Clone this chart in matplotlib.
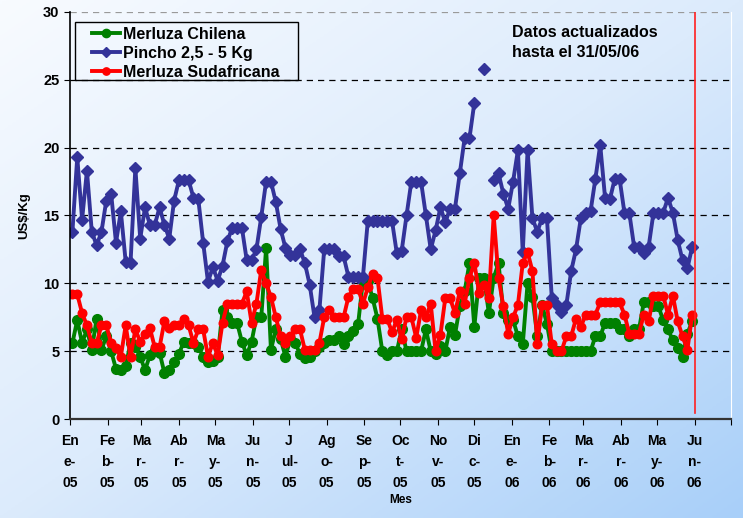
import numpy as np
import pandas as pd
import matplotlib
matplotlib.use('Agg')
import matplotlib.pyplot as plt
from matplotlib.colors import LinearSegmentedColormap
from matplotlib.patches import Rectangle

plt.rcParams['font.family'] = ['Liberation Sans', 'DejaVu Sans']
plt.rcParams['font.weight'] = 'bold'

nan = np.nan
# fechas de muestreo (cada 4 dias)
fechas = pd.date_range('2005-01-03', periods=129, freq='4D')

pincho = [13.8, 19.3, 14.7, 18.3, 13.8, 12.8, 13.8, 16.1, 16.6, 13.0,
          15.3, 11.6, 11.5, 18.5, 13.3, 15.6, 14.3, 14.3, 15.6, 14.3,
          13.3, 16.1, 17.6, 17.6, 17.6, 16.3, 16.2, 13.0, 10.1, 11.2,
          10.2, 11.3, 13.1, 14.1, 14.1, 14.1, 11.7, 11.7, 12.5, 14.9,
          17.5, 17.5, 16.0, 14.0, 12.6, 12.1, 12.1, 12.5, 11.5, 9.9,
          7.5, 8.0, 12.5, 12.5, 12.5, 12.0, 12.0, 10.5, 10.5, 10.5,
          10.5, 14.6, 14.6, 14.6, 14.6, 14.6, 14.6, 12.2, 12.4, 15.0,
          17.5, 17.5, 17.5, 15.0, 12.5, 13.9, 15.6, 14.5, 15.5, 15.5,
          18.1, 20.7, 20.7, 23.3, nan, 25.8, nan, 17.6, 18.1, 16.6,
          15.5, 17.5, 19.8, 12.3, 19.8, 14.8, 13.8, 14.8, 14.8, 8.9,
          8.4, 7.9, 8.4, 10.9, 12.5, 14.8, 15.2, 15.3, 17.7, 20.2,
          16.3, 16.2, 17.7, 17.7, 15.2, 15.2, 12.7, 12.7, 12.2, 12.7,
          15.2, 15.2, 15.2, 16.3, 15.2, 13.2, 11.7, 11.1, 12.7]

chilena = [5.6, 7.3, 5.6, 6.6, 5.1, 7.4, 5.1, 6.1, 5.0, 3.7,
           3.6, 3.9, 5.6, 5.3, 4.6, 3.6, 4.7, 5.1, 4.9, 3.4,
           3.6, 4.2, 4.8, 5.7, 5.6, 5.6, 5.3, 4.6, 4.2, 4.3,
           4.6, 8.0, 7.5, 7.1, 7.1, 5.7, 4.7, 5.7, 7.5, 7.5,
           12.6, 5.1, 6.6, 5.9, 4.6, 5.9, 5.6, 4.8, 4.5, 4.6,
           5.0, 5.3, 5.6, 5.8, 5.8, 6.1, 5.5, 6.1, 6.5, 7.0,
           10.2, 10.2, 8.9, 7.4, 5.0, 4.7, 5.0, 5.0, 6.6, 5.0,
           5.0, 5.0, 5.0, 6.6, 5.0, 4.8, 5.4, 5.0, 6.8, 6.2,
           8.3, 9.4, 11.5, 6.8, 10.4, 10.4, 7.8, 10.4, 11.5, 7.8,
           7.3, 7.3, 6.1, 5.5, 10.0, 9.0, 6.1, 8.4, 7.0, 5.0,
           5.0, 5.0, 5.0, 5.0, 5.0, 5.0, 5.0, 5.0, 6.1, 6.1,
           7.1, 7.1, 7.1, 6.6, 6.6, 6.1, 6.6, 6.6, 8.6, 8.6,
           8.3, 8.3, 7.3, 6.6, 5.8, 5.2, 4.6, 6.3, 7.2]

sudafricana = [9.2, 9.2, 7.8, 6.9, 5.6, 5.6, 6.9, 6.9, 5.6, 5.2,
               4.6, 6.9, 4.6, 6.6, 5.7, 6.3, 6.7, 5.3, 5.3, 7.2,
               6.7, 6.9, 6.9, 7.4, 6.9, 5.6, 6.6, 6.6, 4.6, 5.6,
               4.7, 7.1, 8.5, 8.5, 8.5, 8.5, 9.4, 7.1, 8.5, 11.0,
               10.0, 9.0, 7.5, 6.1, 5.6, 6.1, 6.6, 6.6, 5.1, 5.1,
               5.1, 5.6, 7.5, 8.0, 7.5, 7.5, 7.5, 9.0, 9.6, 9.6,
               8.5, 9.7, 10.7, 10.4, 7.4, 7.4, 6.4, 7.3, 5.9, 7.5,
               7.5, 6.0, 8.0, 7.5, 8.5, 5.0, 6.2, 8.9, 8.9, 7.8,
               9.4, 8.5, 10.4, 11.5, 9.3, 9.9, 8.9, 15.0, 10.4, 8.3,
               6.3, 7.5, 8.4, 11.5, 12.3, 10.9, 5.5, 8.4, 8.4, 5.5,
               5.0, 5.0, 6.1, 6.1, 7.4, 6.8, 7.7, 7.7, 7.7, 8.6,
               8.6, 8.6, 8.6, 8.6, 7.7, 6.3, 6.3, 6.3, 7.7, 7.2,
               9.1, 9.1, 9.1, 7.7, 9.1, 7.2, 6.1, 5.1, 7.7]

meses = ['En\ne-\n05', 'Fe\nb-\n05', 'Ma\nr-\n05', 'Ab\nr-\n05', 'Ma\ny-\n05',
         'Ju\nn-\n05', 'J\nul-\n05', 'Ag\no-\n05', 'Se\np-\n05', 'Oc\nt-\n05',
         'No\nv-\n05', 'Di\nc-\n05', 'En\ne-\n06', 'Fe\nb-\n06', 'Ma\nr-\n06',
         'Ab\nr-\n06', 'Ma\ny-\n06', 'Ju\nn-\n06', '']
inicio_meses = pd.date_range('2005-01-01', '2006-07-01', freq='MS')
fecha_corte = pd.Timestamp('2006-06-01')

fig = plt.figure(figsize=(7.43, 5.18), dpi=100)

# fondo degradado
bg = fig.add_axes([0, 0, 1, 1], zorder=-10)
yy, xx = np.mgrid[0:1:200j, 0:1:200j]
cmap = LinearSegmentedColormap.from_list('fondo', ['#f8fbff', '#dcebfc', '#a8cff9'])
bg.imshow((xx + yy) / 2, cmap=cmap, aspect='auto', extent=[0, 1, 0, 1], origin='upper')
bg.axis('off')

ax = fig.add_axes([0.0942, 0.191, 0.8896, 0.786])
ax.patch.set_alpha(0)

ax.plot(fechas, chilena, color='#008000', lw=2.8, marker='o', ms=7, label='Merluza Chilena')
ax.plot(fechas, pincho, color='#333399', lw=2.8, marker='D', ms=6, label='Pincho 2,5 - 5 Kg')
ax.plot(fechas, sudafricana, color='#ff0000', lw=2.8, marker='o', ms=6.2, label='Merluza Sudafricana')

ax.axvline(fecha_corte, ymin=0.015, ymax=1, color='#ff2020', lw=1.2)

ax.set_ylim(0, 30)
ax.set_xlim(inicio_meses[0], inicio_meses[-1])
ax.set_yticks(range(0, 31, 5))
ax.set_yticklabels([str(v) for v in range(0, 31, 5)], fontsize=10.5, fontweight='bold')
ax.set_xticks(inicio_meses)
ax.set_xticklabels(meses, fontsize=10, fontweight='bold', linespacing=1.6)
ax.tick_params(axis='y', length=4, direction='out')
ax.tick_params(axis='x', length=4, direction='out', pad=7)

ax.yaxis.grid(True, linestyle=(0, (5, 4)), color='black', lw=0.9)
for g in ax.get_ygridlines()[-1:]:
    g.set_color('#9a9a9a')
ax.set_axisbelow(True)

ax.spines['top'].set_visible(False)
ax.spines['right'].set_color('white')
ax.spines['left'].set_linewidth(1.2)
ax.spines['bottom'].set_linewidth(1.6)
ax.spines['bottom'].set_color('#333333')

ax.set_ylabel('US$/Kg', fontsize=9.5, fontweight='bold', labelpad=9)
ax.set_xlabel('Mes', fontsize=8.5, fontweight='bold', labelpad=3)

# leyenda sin marco + recuadro aparte (deja margen a la izquierda como el original)
leg = ax.legend(loc='upper left', bbox_to_anchor=(0.034, 0.964),
                prop={'size': 11.5, 'weight': 'bold'}, frameon=False,
                borderpad=0, borderaxespad=0, labelspacing=0.25,
                handlelength=1.7, handletextpad=0.2, markerscale=0.85)
ax.add_patch(Rectangle((0.0076, 0.833), 0.3374, 0.1424, transform=ax.transAxes,
                       fill=False, edgecolor='black', lw=1.0, zorder=5))

ax.text(0.669, 0.968, 'Datos actualizados\nhasta el 31/05/06', transform=ax.transAxes,
        fontsize=11.5, fontweight='bold', va='top', ha='left', linespacing=1.45)

fig.savefig('out.png', dpi=100)
